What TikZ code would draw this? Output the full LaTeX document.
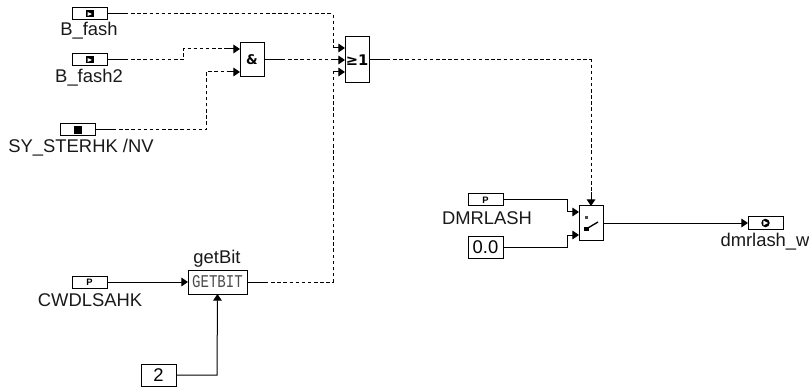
\documentclass[tikz,border=0pt]{standalone}
\usepackage{fontspec}
\setmainfont{Liberation Sans}
\setmonofont{Liberation Mono}
\newfontfamily\symfont{DejaVu Sans}
\usetikzlibrary{arrows.meta,calc}
\begin{document}
\begin{tikzpicture}[x=0.75pt,y=-0.75pt,
  box/.style={draw,line width=0.75pt,inner sep=0pt,outer sep=0pt,anchor=north west},
  lbl/.style={inner sep=0pt,font=\fontsize{13.8}{14}\selectfont,text=black!90},
  wire/.style={line width=0.75pt},
  dashwire/.style={line width=0.75pt,dash pattern=on 2.6pt off 2pt},
  arr/.style={line width=0.75pt,-{Triangle[length=5pt,width=6.5pt]}},
  port/.style={box,minimum width=26.25pt,minimum height=9pt},
  cst/.style={box,minimum width=26.25pt,minimum height=16.5pt,font=\fontsize{13.8}{14}\selectfont},
  blk/.style={box,minimum width=18pt}
]
\useasboundingbox (0,0) rectangle (809,388);
\node[port] (bf) at (72,8) {};
\node[port] (bf2) at (72,54) {};
\node[port] (sy) at (60,124) {};
\node[port] (cw) at (72,276) {};
\node[port] (dm) at (468,194) {};
\node[port] (dw) at (748,217) {};
\node[cst] (zero) at (468,236) {0.0};
\node[cst] (two) at (141,364) {2};
\node[blk,minimum height=25.5pt,font=\symfont\bfseries\fontsize{10}{10}\selectfont] (and) at (240,43) {\&};
\node[blk,minimum height=34.5pt,font=\symfont\bfseries\fontsize{11}{11}\selectfont] (or) at (345,37) {≥1};
\node[box,minimum width=44.25pt,minimum height=18pt] (gb) at (188,270) {\textcolor{black!70}{\resizebox{38pt}{9pt}{\ttfamily GETBIT}}};
\node[blk,minimum height=25.5pt] (sw) at (579,206) {};
% labels
\node[lbl] (t1) at (89,31) {B\_fash};
\node[lbl] (t2) at (89,78) {B\_fash2};
\node[lbl] (t3) at (81,147.5) {SY\_STERHK /NV};
\node[lbl] (t4) at (90,300) {CWDLSAHK};
\node[lbl] (t5) at (217,259) {getBit};
\node[lbl] (t6) at (487,218) {DMRLASH};
\node[lbl] (t7) at (765,241.5) {dmrlash\_w};
% port icons
\foreach \p in {bf,bf2}{
  \fill ($(\p.center)+(-4,-3.5)$) rectangle ($(\p.center)+(4,3.5)$);
  \fill[white] ($(\p.center)+(-2,-2)$) -- ($(\p.center)+(2.5,0)$) -- ($(\p.center)+(-2,2)$) -- cycle;
}
\fill ($(sy.center)+(-4,-4)$) rectangle ($(sy.center)+(4,4)$);
\foreach \p in {cw,dm}{
  \node[inner sep=0pt,font=\bfseries\fontsize{7}{7}\selectfont] (i\p) at (\p.center) {P};
}
\fill (dw.center) circle (4.2);
\fill[white] ($(dw.center)+(-2.2,-2.4)$) -- ($(dw.center)+(2.6,0)$) -- ($(dw.center)+(-2.2,2.4)$) -- cycle;
% switch icon
\fill[black!70] (584.5,216) rectangle (588,219.5);
\fill (584,227) rectangle (589,230.5);
\draw[line width=1pt] (587,228.5) -- (598,222);
% coordinates
\coordinate (c1) at (333,14);
\coordinate (c1b) at (333,48);
\coordinate (c2) at (183,60);
\coordinate (c2b) at (183,49);
\coordinate (c3) at (206,130);
\coordinate (c3b) at (206,72);
\coordinate (c4) at (333,282);
\coordinate (c4b) at (333,72);
\coordinate (c5) at (591,60);
\coordinate (c6) at (591,192);
\coordinate (m1) at (333,60);
\coordinate (s1) at (125,14);
\coordinate (s2) at (125,60);
\coordinate (s3) at (113,130);
\coordinate (s4) at (282,60);
\coordinate (s5) at (265,282);
\coordinate (s6) at (387,60);
\coordinate (a1) at (228,49);
\coordinate (a2) at (228,72);
\coordinate (d1) at (567,200);
\coordinate (d2) at (567,212);
\coordinate (d3) at (567,247);
\coordinate (d4) at (567,235);
\coordinate (k) at (217,375);
% dashed connectors
\draw[dashwire] (s1) -- (c1) -- (c1b);
\draw[dashwire] (s2) -- (c2) -- (c2b) -- (a1);
\draw[dashwire] (s3) -- (c3) -- (c3b) -- (a2);
\draw[dashwire] (s4) -- (m1);
\draw[dashwire] (s5) -- (c4) -- (c4b);
\draw[dashwire] (s6) -- (c5) -- (c6);
% solid starts
\draw[wire] (bf.east) -- (s1);
\draw[wire] (bf2.east) -- (s2);
\draw[wire] (sy.east) -- (s3);
\draw[wire] (and.east) -- (s4);
\draw[wire] (gb.east) -- (s5);
\draw[wire] (or.east) -- (s6);
% arrow ends
\draw[arr] (c1b) -- (or.west|-c1b);
\draw[arr] (m1) -- (or.west);
\draw[arr] (c4b) -- (or.west|-c4b);
\draw[arr] (a1) -- (and.west|-a1);
\draw[arr] (a2) -- (and.west|-a2);
\draw[arr] (c6) -- (sw.north);
% solid connectors
\draw[arr] (cw.east) -- (gb.west);
\draw[arr] (two.east) -- (k) -- (gb.south);
\draw[arr] (dm.east) -- (d1) -- (d2) -- (sw.west|-d2);
\draw[arr] (zero.east) -- (d3) -- (d4) -- (sw.west|-d4);
\draw[arr] (sw.east) -- (dw.west);
\end{tikzpicture}
\end{document}
